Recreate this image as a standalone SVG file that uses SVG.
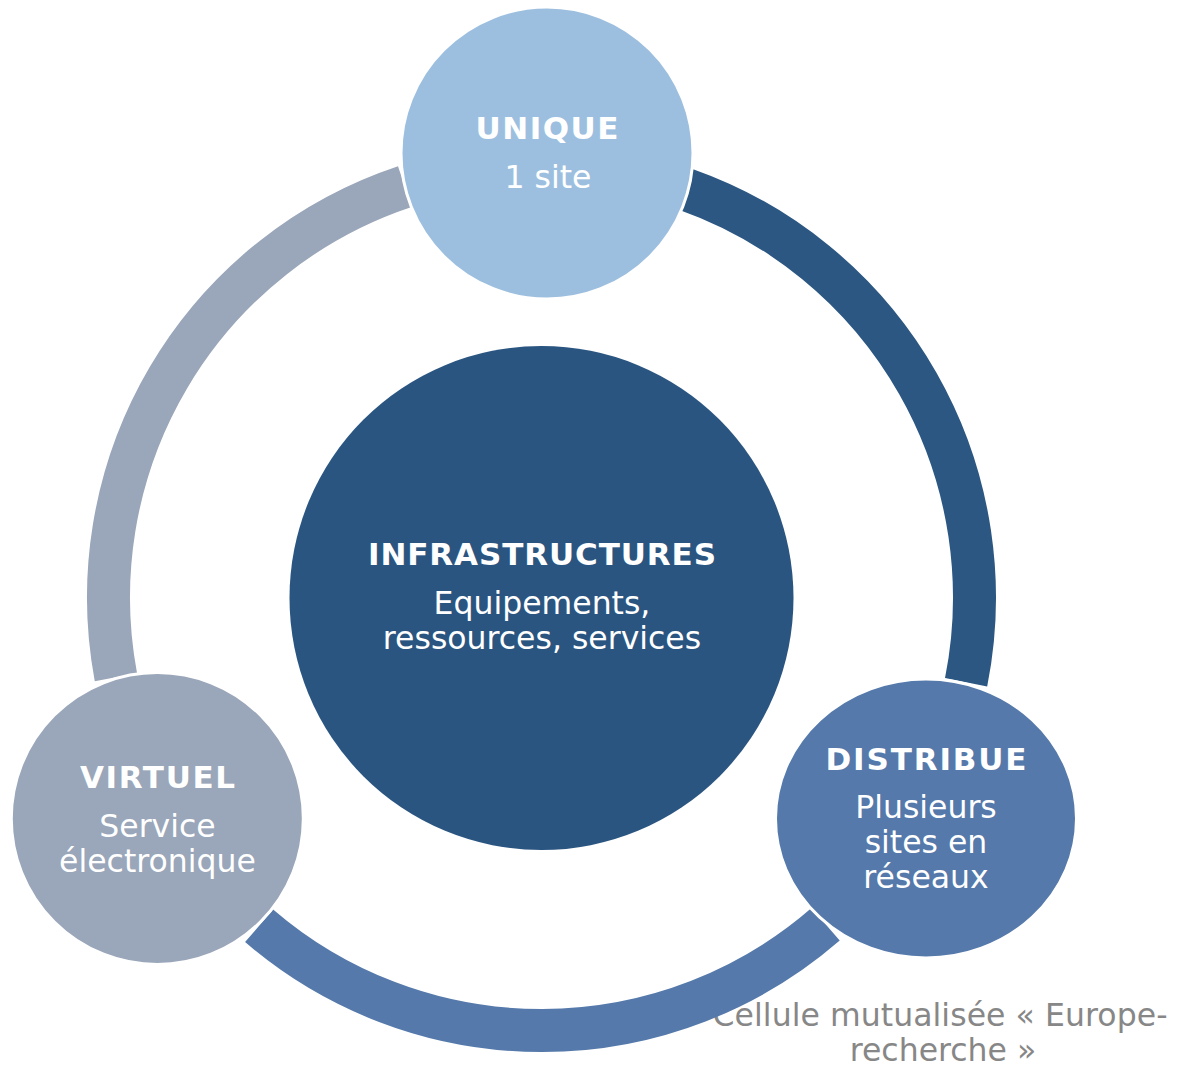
<svg xmlns="http://www.w3.org/2000/svg" width="1177" height="1066" viewBox="0 0 1177 1066">
  <style>
    .t { font-family: Verdana, "DejaVu Sans", sans-serif; fill: #ffffff; text-anchor: middle; }
    .title { font-size: 31px; font-weight: bold; }
    .body { font-size: 31.5px; }
    .note { font-family: Verdana, "DejaVu Sans", sans-serif; font-size: 31.5px; fill: #878787; text-anchor: middle; }
    .arc { fill: none; stroke-width: 43; stroke-linecap: butt; }
    .node { stroke: #ffffff; stroke-width: 3; }
  </style>
  <rect width="1177" height="1066" fill="#ffffff"/>

  <!-- caption (sits under the ring) -->
  <g id="caption">
    <text class="note" x="940" y="1026" textLength="455" lengthAdjust="spacing">Cellule mutualisée « Europe-</text>
    <text class="note" x="943" y="1061">recherche »</text>
  </g>

  <!-- ring segments linking the three outer nodes -->
  <g id="connectors">
    <path class="arc" stroke="#2B5782" d="M686.0,189.4 A433,433 0 0 1 966.1,682.3"/>
    <path class="arc" stroke="#5479AA" d="M825.6,924.3 A433,433 0 0 1 259.1,925.8"/>
    <path class="arc" stroke="#9AA6B9" d="M115.9,677.2 A433,433 0 0 1 404.8,186.6"/>
  </g>

  <g id="infrastructures">
    <circle cx="541.5" cy="598" r="252" fill="#2A5581"/>
    <text class="t title" x="542" y="565" textLength="348" lengthAdjust="spacing">INFRASTRUCTURES</text>
    <text class="t body" x="542" y="614">Equipements,</text>
    <text class="t body" x="542" y="649">ressources, services</text>
  </g>

  <g id="unique">
    <circle class="node" cx="547" cy="153" r="146" fill="#9DBFDF"/>
    <text class="t title" x="547" y="139" textLength="143" lengthAdjust="spacing">UNIQUE</text>
    <text class="t body" x="548" y="188">1 site</text>
  </g>

  <g id="distribue">
    <ellipse class="node" cx="926" cy="818.5" rx="150.5" ry="139.5" fill="#5479AA"/>
    <text class="t title" x="926" y="770" textLength="201" lengthAdjust="spacing">DISTRIBUE</text>
    <text class="t body" x="926" y="818">Plusieurs</text>
    <text class="t body" x="926" y="853">sites en</text>
    <text class="t body" x="926" y="888">réseaux</text>
  </g>

  <g id="virtuel">
    <circle class="node" cx="157.3" cy="818.5" r="146" fill="#9AA6B9"/>
    <text class="t title" x="157.5" y="788" textLength="155" lengthAdjust="spacing">VIRTUEL</text>
    <text class="t body" x="157.5" y="837">Service</text>
    <text class="t body" x="157.5" y="872">électronique</text>
  </g>
</svg>
